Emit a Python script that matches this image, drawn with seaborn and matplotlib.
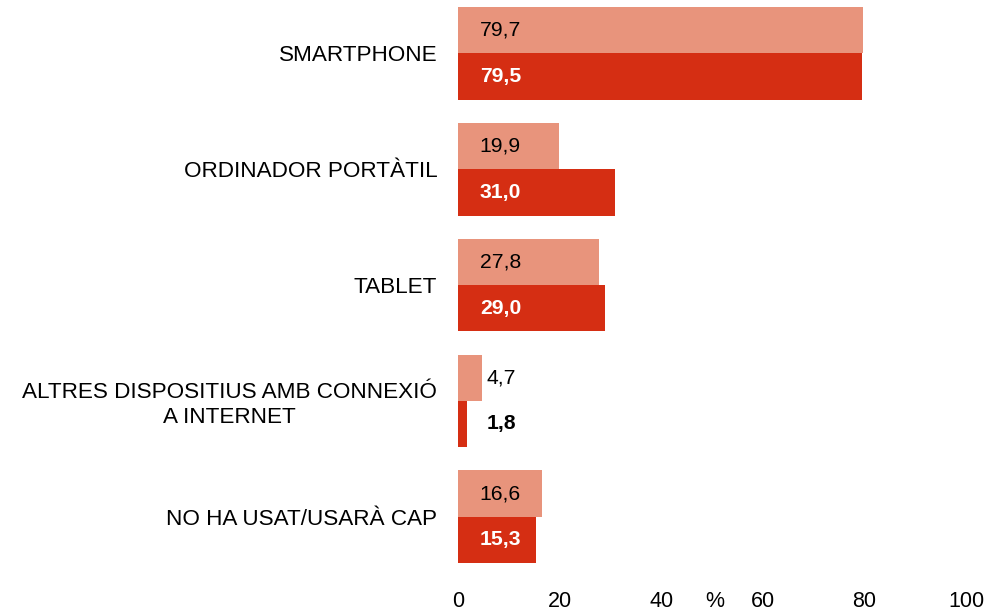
import numpy as np
import pandas as pd
import seaborn as sns
import matplotlib.pyplot as plt
from matplotlib.transforms import blended_transform_factory

categories = ['SMARTPHONE', 'ORDINADOR PORTÀTIL', 'TABLET',
              'ALTRES DISPOSITIUS AMB CONNEXIÓ\nA INTERNET', 'NO HA USAT/USARÀ CAP']
series_names = ['Sèrie 1', 'Sèrie 2']
values_1 = [79.7, 19.9, 27.8, 4.7, 16.6]
values_2 = [79.5, 31.0, 29.0, 1.8, 15.3]
xticks = [0, 20, 40, 60, 80, 100]

colors = ['#E8947C', '#D52E13']

df = pd.DataFrame({
    'categoria': categories * 2,
    'serie': [series_names[0]] * 5 + [series_names[1]] * 5,
    'valor': values_1 + values_2,
})

sns.set_style('white')
plt.rcParams['font.family'] = ['Liberation Sans', 'DejaVu Sans']

fig = plt.figure(figsize=(9.92, 6.13), dpi=100)
ax = fig.add_axes([458 / 992, 1 - 563 / 613, (966 - 458) / 992, 556 / 613])

sns.barplot(data=df, y='categoria', x='valor', hue='serie', hue_order=series_names,
            order=categories, palette=colors, orient='h', width=0.8, saturation=1,
            linewidth=0, legend=False, ax=ax)

ax.set_xlim(0, 100)
ax.set_ylim(4.4, -0.4)
ax.set_xticks(xticks)
ax.set_xticklabels([str(t) for t in xticks])
ax.set_xlabel('')
ax.set_ylabel('')
sns.despine(ax=ax, left=True, bottom=True)
ax.tick_params(axis='x', length=0, pad=20, labelsize=15.5, colors='black')
ax.tick_params(axis='y', length=0, pad=15, labelsize=16.2, colors='black')
for lab in ax.get_yticklabels():
    lab.set_multialignment('center')

# value labels
for i, (v1, v2) in enumerate(zip(values_1, values_2)):
    for j, v in enumerate([v1, v2]):
        y = i - 0.2 + 0.4 * j
        x = 4.3 if v >= 5 else 5.6
        txt = f'{v:.1f}'.replace('.', ',')
        if j == 0:
            ax.text(x, y, txt, va='center', ha='left', fontsize=15.2, color='black')
        else:
            col = 'white' if v >= 5 else 'black'
            ax.text(x, y, txt, va='center', ha='left', fontsize=15.2,
                    color=col, fontweight='bold')

trans = blended_transform_factory(ax.transData, ax.transAxes)
ax.text(50.5, -20 / 72 * 100 / 556, '%', transform=trans, ha='center', va='top',
        fontsize=15.5, color='black')

fig.savefig('out.png', dpi=100)
